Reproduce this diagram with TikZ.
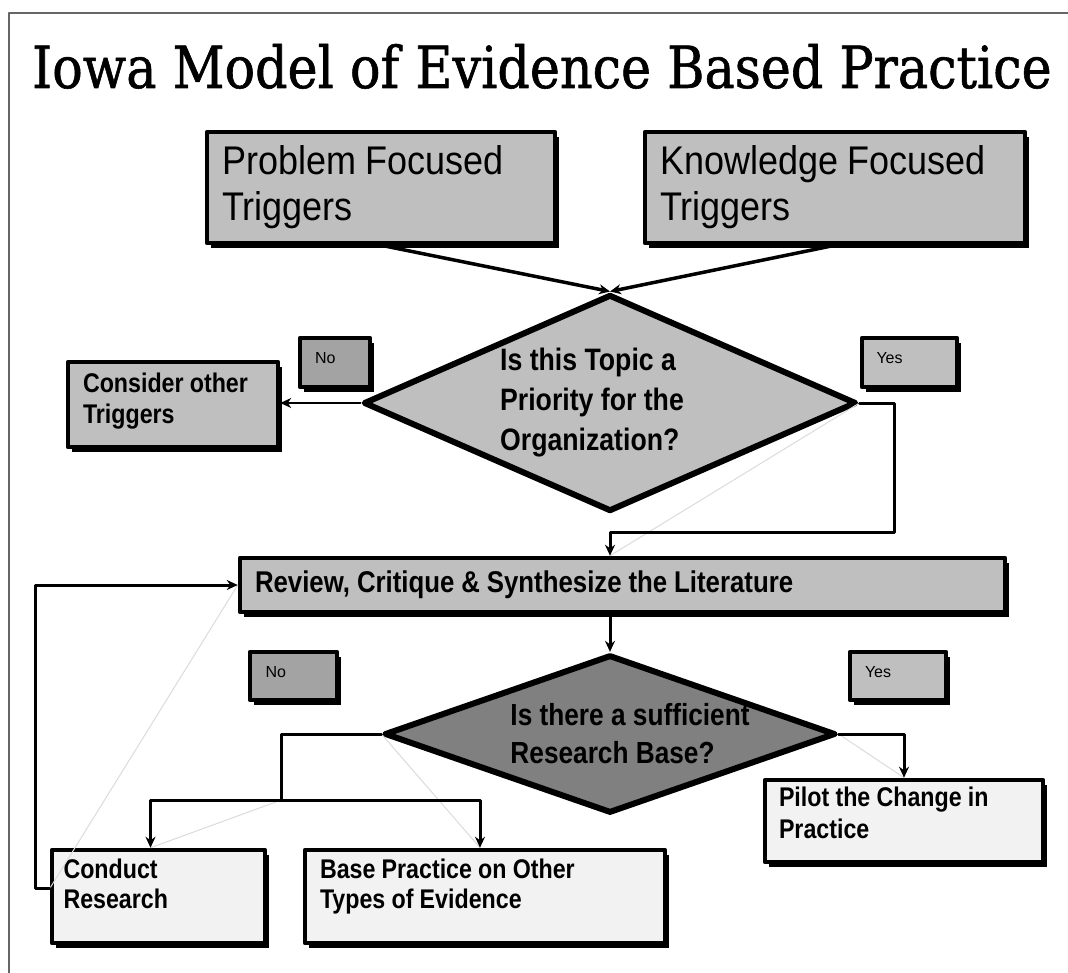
\documentclass[tikz,border=0pt]{standalone}
\usepackage{fontspec}
\setmainfont{Liberation Sans}
\newfontfamily\headfont[FakeStretch=0.875, FakeBold=1]{DejaVu Serif}
\newfontfamily\trigfont[FakeStretch=0.9]{Liberation Sans}
\newfontfamily\narrowfont[FakeStretch=0.86]{Liberation Sans}
\newcommand\tightspace{\spaceskip=0.23em\relax}
\usetikzlibrary{shapes.geometric,shadows,calc,arrows.meta}
\definecolor{boxgray}{gray}{0.75}
\definecolor{nogray}{gray}{0.64}
\definecolor{deepgray}{gray}{0.5}
\definecolor{palegray}{gray}{0.95}
\definecolor{ghost}{gray}{0.86}
\definecolor{framegray}{gray}{0.4}

\begin{document}
\begin{tikzpicture}[x=1pt, y=-1pt, line join=round, line cap=round, >={Stealth[length=11pt, width=10pt]},
	box/.style={draw, line width=4.5pt, fill=boxgray, inner sep=0pt, align=left,
		execute at begin node=\tightspace,
		drop shadow={shadow xshift=4pt, shadow yshift=-5pt, fill=black, opacity=1}},
	answer/.style={box, text depth=9pt, font=\fontsize{16}{18}\selectfont},
	question/.style={diamond, draw, line width=6pt, inner sep=0pt, align=left},
	flow/.style={line width=3pt},
	ghostline/.style={ghost, line width=1pt}]
	\useasboundingbox (0,0) rectangle (1068,973);
	\draw[framegray, line width=2pt] (9,973) -- (9,13) -- (1068,13);
	\node[anchor=base west, inner sep=0pt, font=\headfont\fontsize{58}{60}\selectfont] (title) at (32,88) {Iowa Model of Evidence Based Practice};

	\node[box, minimum width=348pt, minimum height=111pt, text width=318pt, font=\trigfont\fontsize{40}{46}\selectfont] (pft) at (381,187.5) {Problem Focused\\Triggers};
	\node[box, minimum width=380pt, minimum height=111pt, text width=350pt, font=\trigfont\fontsize{40}{46}\selectfont] (kft) at (835,187.5) {Knowledge Focused\\Triggers};

	\node[question, aspect=2.27, fill=boxgray, minimum width=493pt, minimum height=217pt, font=\narrowfont\bfseries\fontsize{31}{40}\selectfont] (prio) at (610,403) {\hspace*{-36pt}Is this Topic a\\\hspace*{-36pt}Priority for the\\\hspace*{-36pt}Organization?};
	\node[answer, fill=nogray, minimum width=70pt, minimum height=49pt, text width=40pt] (no1) at (335,362.5) {No};
	\node[answer, minimum width=95pt, minimum height=49pt, text width=66pt] (yes1) at (909.5,362.5) {Yes};
	\node[box, minimum width=210pt, minimum height=85pt, text width=180pt, text depth=44pt, font=\narrowfont\bfseries\fontsize{27}{31}\selectfont] (consider) at (173,404.5) {Consider other\\Triggers};

	\node[box, minimum width=765pt, minimum height=54pt, text width=735pt, font=\narrowfont\bfseries\fontsize{30}{30}\selectfont] (review) at (622.5,585) {Review, Critique \& Synthesize the Literature};

	\node[question, aspect=2.85, fill=deepgray, minimum width=450pt, minimum height=158pt, font=\narrowfont\bfseries\fontsize{30.5}{38}\selectfont] (suff) at (610,734) {\hspace*{40pt}Is there a sufficient\\\hspace*{40pt}Research Base?};
	\node[answer, fill=nogray, minimum width=87pt, minimum height=48pt, text width=56pt] (no2) at (293.5,676) {No};
	\node[answer, minimum width=96pt, minimum height=48pt, text width=66pt] (yes2) at (898,676) {Yes};

	\node[box, fill=palegray, minimum width=278pt, minimum height=82pt, text width=250pt, text depth=48pt, font=\narrowfont\bfseries\fontsize{27}{32}\selectfont] (pilot) at (904,821) {Pilot the Change in\\Practice};
	\node[box, fill=palegray, minimum width=213pt, minimum height=93pt, text width=190pt, text depth=55pt, font=\narrowfont\bfseries\fontsize{27}{30}\selectfont] (conduct) at (158.5,896.5) {Conduct\\Research};
	\node[box, fill=palegray, minimum width=360pt, minimum height=93pt, text width=330pt, text depth=55pt, font=\narrowfont\bfseries\fontsize{27}{30}\selectfont] (base) at (485,896.5) {Base Practice on Other\\Types of Evidence};

	\draw[ghostline] (prio.east) -- (review.north -| prio.south);
	\draw[ghostline] (review.west) -- ([yshift=8pt]conduct.west);
	\draw[ghostline] (suff.west) -- ([xshift=-5pt]base.north);
	\draw[ghostline] (suff.east) -- (pilot.north);

	\draw[->, line width=3.5pt] (pft.south) -- (prio.north);
	\draw[->, line width=3.5pt] (kft.south) -- (prio.north);
	\draw[->, line width=2pt] (prio.west) -- (prio.west -| consider.east);
	\draw[->, flow] (prio.east) -- ++(35,0) |- ($(review.north -| prio.south)+(0,-23)$) -- (review.north -| prio.south);
	\draw[->, flow] (review.south -| suff.north) -- (suff.north);
	\draw[flow] (suff.west) -- ++(-100,0) -- ++(0,66) coordinate (fork);
	\draw[ghostline] (fork) -- ([xshift=-8pt]conduct.north);
	\draw[->, flow] (fork) -| ([xshift=-8pt]conduct.north);
	\draw[->, flow] (fork) -| ([xshift=-5pt]base.north);
	\draw[->, flow] (suff.east) -| (pilot.north);
	\draw[->, flow] ([yshift=8pt]conduct.west) -- ++(-14,0) |- (review.west);
\end{tikzpicture}
\end{document}
